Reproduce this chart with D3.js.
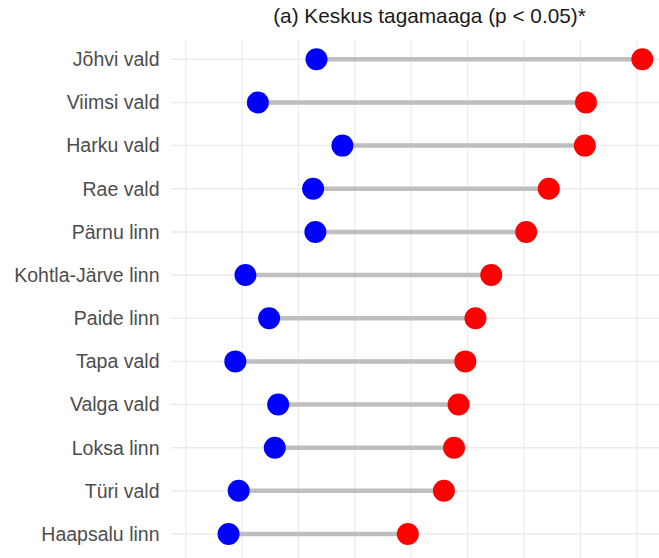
<!DOCTYPE html>
<html>
<head>
<meta charset="utf-8">
<script src="https://cdn.jsdelivr.net/npm/d3@7"></script>
<style>
  body { margin: 0; background: #fff; }
  text { font-family: "Liberation Sans", Arial, sans-serif; }
</style>
</head>
<body>
<svg></svg>
<script>
// chart data (top to bottom)
const places = ["Jõhvi vald", "Viimsi vald", "Harku vald", "Rae vald", "Pärnu linn",
  "Kohtla-Järve linn", "Paide linn", "Tapa vald", "Valga vald", "Loksa linn",
  "Türi vald", "Haapsalu linn"];
const lowValues = [2.16, 1.64, 2.39, 2.13, 2.15, 1.53, 1.74, 1.44, 1.82, 1.79, 1.47, 1.38];
const highValues = [5.05, 4.55, 4.54, 4.22, 4.02, 3.71, 3.57, 3.48, 3.42, 3.38, 3.29, 2.97];
const gridValues = [1, 1.5, 2, 2.5, 3, 3.5, 4, 4.5, 5];
const title = "(a) Keskus tagamaaga (p < 0.05)*";

const width = 659;
const height = 558;

const svg = d3.select('svg')
  .attr('width', width)
  .attr('height', height);

const panel = { left: 171, right: 659, top: 40, bottom: 558 };

const x = d3.scaleLinear().domain([1, 5]).range([185.7, 636.7]);
const y = d3.scalePoint().domain(places).range([59.3, 534]);

const rows = places.map((p, i) => ({ name: p, low: lowValues[i], high: highValues[i] }));

// grid
svg.append('g').selectAll('line')
  .data(gridValues)
  .join('line')
    .attr('x1', (d) => x(d)).attr('x2', (d) => x(d))
    .attr('y1', panel.top).attr('y2', panel.bottom)
    .attr('stroke', '#ebebeb')
    .attr('stroke-width', 1.2);

svg.append('g').selectAll('line')
  .data(places)
  .join('line')
    .attr('x1', panel.left).attr('x2', panel.right)
    .attr('y1', (d) => y(d)).attr('y2', (d) => y(d))
    .attr('stroke', '#ebebeb')
    .attr('stroke-width', 1.5);

// y labels
svg.append('g').selectAll('text')
  .data(places)
  .join('text')
    .attr('x', 159.5)
    .attr('y', (d) => y(d))
    .attr('dy', '0.35em')
    .attr('text-anchor', 'end')
    .attr('fill', '#4d4d4d')
    .style('font-size', '19.5px')
    .text((d) => d);

// segments
svg.append('g').selectAll('line')
  .data(rows)
  .join('line')
    .attr('x1', (d) => x(d.low)).attr('x2', (d) => x(d.high))
    .attr('y1', (d) => y(d.name)).attr('y2', (d) => y(d.name))
    .attr('stroke', '#bebebe')
    .attr('stroke-width', 4.5);

// dots
svg.append('g').selectAll('circle')
  .data(rows)
  .join('circle')
    .attr('cx', (d) => x(d.low))
    .attr('cy', (d) => y(d.name))
    .attr('r', 11)
    .attr('fill', '#0000ff');

svg.append('g').selectAll('circle')
  .data(rows)
  .join('circle')
    .attr('cx', (d) => x(d.high))
    .attr('cy', (d) => y(d.name))
    .attr('r', 11)
    .attr('fill', '#ff0000');

// title
svg.append('text')
  .attr('x', 429.5)
  .attr('y', 23)
  .attr('text-anchor', 'middle')
  .attr('fill', '#1a1a1a')
  .style('font-size', '20.8px')
  .text(title);
</script>
</body>
</html>
